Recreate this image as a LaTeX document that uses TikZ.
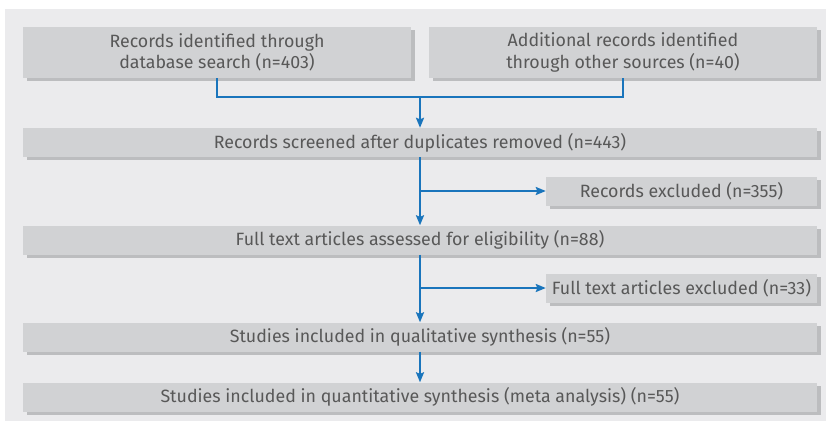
\documentclass[tikz,border=0pt]{standalone}
\usepackage{fontspec}
\setmainfont{Fira Sans}
\usetikzlibrary{shadows, arrows.meta}

\definecolor{panelgray}{HTML}{EBEBED}
\definecolor{boxgray}{HTML}{D1D2D4}
\definecolor{shadegray}{HTML}{BCBDBF}
\definecolor{flowblue}{HTML}{1A75BC}
\definecolor{textgray}{HTML}{585858}

\tikzset{
  stage/.style={fill=boxgray, text=textgray, inner sep=0pt, align=center,
    font=\fontsize{17.8}{21.5}\selectfont, minimum height=29pt,
    drop shadow={shadow xshift=4pt, shadow yshift=-3pt, fill=shadegray, opacity=1}},
  wide/.style={stage, minimum width=794pt},
  half/.style={stage, minimum width=388pt, minimum height=51pt},
  side/.style={stage, minimum width=271pt},
  flowline/.style={draw=flowblue, line width=2pt},
  flow/.style={flowline, -{Stealth[length=10pt, width=8pt, inset=1.5pt]}}
}

\begin{document}
\begin{tikzpicture}[x=1pt, y=-1pt]

	% page and grey panel
	\useasboundingbox (0,0) rectangle (826,421);
	\fill[panelgray] (5,9) rectangle (826,421);

	% the boxes
	\node[half] (dbsearch) at (217,52.5) {Records identified through\\database search (n=403)};
	\node[half] (othersrc) at (623,52.5) {Additional records identified\\through other sources (n=40)};
	\node[wide] (screened) at (420,142.5) {Records screened after duplicates removed (n=443)};
	\node[side] (recexcl) at (681.5,191) {Records excluded (n=355)};
	\node[wide] (fulltext) at (420,240) {Full text articles assessed for eligibility (n=88)};
	\node[side] (ftexcl) at (681.5,288) {Full text articles excluded (n=33)};
	\node[wide] (qual) at (420,337) {Studies included in qualitative synthesis (n=55)};
	\node[wide] (quant) at (420,397) {Studies included in quantitative synthesis (meta analysis) (n=55)};

	% joining the two sources
	\coordinate (merge) at (420,97);
	\draw[flowline] (dbsearch.south) |- (merge);
	\draw[flowline] (othersrc.south) |- (merge);
	\draw[flow] (merge) -- (screened.north);

	% main flow and exclusions
	\draw[flow] (screened.south) -- (fulltext.north);
	\draw[flow] (recexcl.west -| screened.south) -- (recexcl.west);
	\draw[flow] (fulltext.south) -- (qual.north);
	\draw[flow] (ftexcl.west -| fulltext.south) -- (ftexcl.west);
	\draw[flow] (qual.south) -- (quant.north);

\end{tikzpicture}
\end{document}
